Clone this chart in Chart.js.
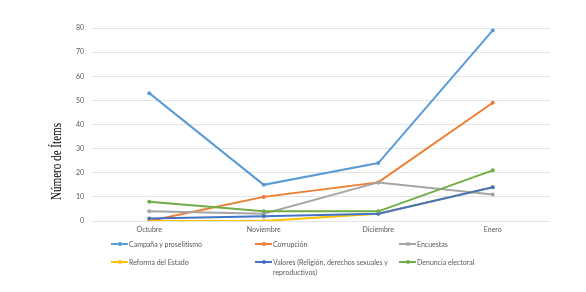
<!DOCTYPE html>
<html>
<head>
<meta charset="utf-8">
<script src="https://cdn.jsdelivr.net/npm/chart.js@4/dist/chart.umd.min.js"></script>
<style>
  html, body { margin: 0; padding: 0; background: #fff; }
  #wrap { position: relative; width: 586px; height: 292px; }
  #c { position: absolute; left: 0; top: 0; }
  .lg { position: absolute; font-family: Lato, sans-serif; font-size: 7px; color: #595959; line-height: 10px; }
  .lg .mk { position: absolute; left: 0; top: 4px; width: 17px; height: 2px; }
  .lg .dt { position: absolute; left: 6.5px; top: 3px; width: 4px; height: 4px; border-radius: 50%; }
  .lg .tx { position: absolute; left: 18px; top: 0; width: 118px; }
</style>
</head>
<body>
<div id="wrap">
  <canvas id="c" width="586" height="292"></canvas>
</div>
<script>
const categories = ["Octubre", "Noviembre", "Diciembre", "Enero"];
const seriesNames = [
  "Campaña y proselitismo",
  "Corrupción",
  "Encuestas",
  "Reforma del Estado",
  "Valores (Religión, derechos sexuales y reproductivos)",
  "Denuncia electoral"
];
const campana = [53, 15, 24, 79];
const corrupcion = [0, 10, 16, 49];
const encuestas = [4, 3, 16, 11];
const reforma = [0, 0, 3, 14];
const valores = [1, 2, 3, 14];
const denuncia = [8, 4, 4, 21];
const seriesColors = ["#5B9BD5", "#ED7D31", "#A5A5A5", "#FFC000", "#4472C4", "#70AD47"];
const yTitle = "Número de Ítems";

const allData = [campana, corrupcion, encuestas, reforma, valores, denuncia];
const datasets = allData.map((d, i) => ({
  label: seriesNames[i],
  data: d,
  borderColor: seriesColors[i],
  backgroundColor: seriesColors[i],
  borderWidth: 2,
  pointRadius: 2,
  pointHoverRadius: 2,
  pointBorderWidth: 0,
  tension: 0,
  order: -i
}));

const yTitlePlugin = {
  id: 'yTitlePlugin',
  afterDraw(chart) {
    const ctx = chart.ctx;
    ctx.save();
    ctx.translate(61, 161.5);
    ctx.rotate(-Math.PI / 2);
    ctx.scale(0.74, 1);
    ctx.font = '15px "Liberation Serif"';
    ctx.fillStyle = '#000';
    ctx.textAlign = 'center';
    ctx.textBaseline = 'alphabetic';
    ctx.fillText(yTitle, 0, 0);
    ctx.restore();
  }
};

new Chart(document.getElementById('c'), {
  type: 'line',
  data: { labels: categories, datasets },
  plugins: [yTitlePlugin],
  options: {
    responsive: false,
    animation: false,
    layout: { padding: { left: 44, top: 28, right: 36, bottom: 0 } },
    plugins: { legend: { display: false }, tooltip: { enabled: false } },
    scales: {
      x: {
        offset: true,
        grid: { display: false, drawTicks: false },
        border: { display: false },
        ticks: { color: '#595959', font: { family: 'Lato', size: 7 }, padding: 5, maxRotation: 0 },
        afterFit: (s) => { s.height = 71; }
      },
      y: {
        min: 0, max: 80,
        grid: { color: '#e3e3e3', lineWidth: 1, drawTicks: false },
        border: { display: false },
        ticks: { stepSize: 10, color: '#595959', font: { family: 'Lato', size: 7 }, padding: 8 },
        afterFit: (s) => { s.width = 48; }
      }
    }
  }
});

// HTML legend built from the series arrays
const wrap = document.getElementById('wrap');
const colX = [111, 255, 399];
const rowY = [239, 257];
seriesNames.forEach((name, i) => {
  const el = document.createElement('div');
  el.className = 'lg';
  el.style.left = colX[i % 3] + 'px';
  el.style.top = rowY[Math.floor(i / 3)] + 'px';
  el.innerHTML = '<div class="mk" style="background:' + seriesColors[i] + '"></div>' +
    '<div class="dt" style="background:' + seriesColors[i] + '"></div>' +
    '<div class="tx"></div>';
  el.querySelector('.tx').textContent = name;
  wrap.appendChild(el);
});
</script>
</body>
</html>
